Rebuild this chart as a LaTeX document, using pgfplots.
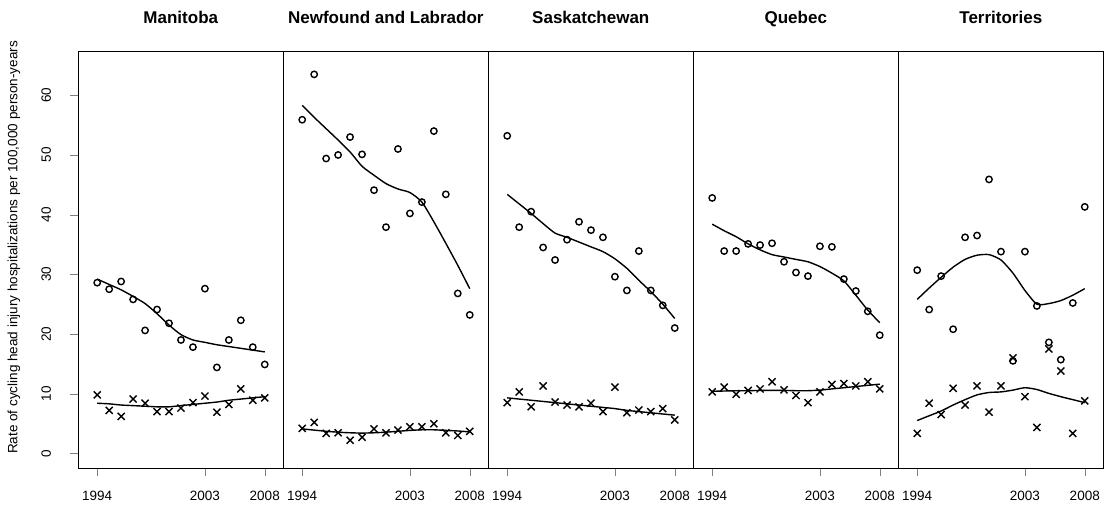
\documentclass[border=0pt]{standalone}
\usepackage{pgfplots}
\pgfplotsset{compat=1.18}
\usepackage{fontspec}
\setmainfont{Liberation Sans}

\pgfplotsset{
  panel/.style={
    scale only axis, width=205pt, height=416.6pt,
    anchor=south west,
    xmin=1992.42, xmax=2009.55, ymin=-2.5, ymax=67.3,
    xtick={1994,2003,2008}, xticklabels={1994,2003,2008},
    ytick=\empty,
    tick align=outside, major tick length=8pt,
    xtick pos=lower, ytick pos=left,
    line width=1.5pt,
    /pgf/number format/assume math mode=true,
    xticklabel style={font=\fontsize{13.5}{15}\selectfont, anchor=base, yshift=-24pt},
    title style={font=\fontsize{17}{19}\selectfont\bfseries, at={(0.5,1)}, anchor=base, yshift=21.7pt},
    clip=false,
  },
  circ/.style={only marks, mark=o, mark size=3.2pt, mark options={line width=1.4pt}},
  crs/.style={only marks, mark=x, mark size=5pt, mark options={line width=1.4pt}},
  fit/.style={no marks, line width=1.4pt, smooth, tension=0.4},
}

\begin{document}
\begin{tikzpicture}
\path[use as bounding box] (-78.3pt,-36.7pt) rectangle (1030.7pt,468.3pt);

% Manitoba
\begin{axis}[panel, at={(0pt,0pt)}, title={Manitoba},
  ytick={0,10,20,30,40,50,60}, yticklabels={0,10,20,30,40,50,60},
  yticklabel style={font=\fontsize{13.5}{15}\selectfont, xshift=-19.4pt, rotate=90, anchor=base},
  ylabel={Rate of cycling head injury hospitalizations per 100,000 person-years},
  every axis y label/.style={font=\fontsize{13.5}{15}\selectfont, at={(axis description cs:0,0.53)}, xshift=-61pt, rotate=90, anchor=base}]
\addplot[circ] coordinates {(1994,28.6)(1995,27.5)(1996,28.8)(1997,25.8)(1998,20.6)(1999,24.1)(2000,21.8)(2001,19.0)(2002,17.8)(2003,27.6)(2004,14.4)(2005,19.0)(2006,22.3)(2007,17.8)(2008,14.9)};
\addplot[fit] coordinates {(1994,29.2)(1995,28.3)(1996,27.4)(1997,26.3)(1998,25.1)(1999,23.4)(2000,21.5)(2001,19.9)(2002,19.0)(2003,18.6)(2004,18.2)(2005,17.9)(2006,17.6)(2007,17.3)(2008,17.0)};
\addplot[crs] coordinates {(1994,9.8)(1995,7.2)(1996,6.2)(1997,9.1)(1998,8.4)(1999,7.0)(2000,7.0)(2001,7.6)(2002,8.5)(2003,9.6)(2004,6.9)(2005,8.2)(2006,10.8)(2007,8.9)(2008,9.3)};
\addplot[fit] coordinates {(1994,8.4)(1995,8.3)(1996,8.1)(1997,8.0)(1998,7.9)(1999,7.8)(2000,7.8)(2001,8.0)(2002,8.2)(2003,8.4)(2004,8.6)(2005,8.9)(2006,9.1)(2007,9.3)(2008,9.5)};
\end{axis}

% Newfoundland
\begin{axis}[panel, at={(205pt,0pt)}, title={Newfound and Labrador}]
\addplot[circ] coordinates {(1994,55.9)(1995,63.5)(1996,49.4)(1997,50.0)(1998,53.0)(1999,50.1)(2000,44.1)(2001,37.9)(2002,51.0)(2003,40.2)(2004,42.1)(2005,54.0)(2006,43.4)(2007,26.8)(2008,23.2)};
\addplot[fit] coordinates {(1994,58.3)(1995,56.3)(1996,54.4)(1997,52.5)(1998,50.5)(1999,48.1)(2000,46.6)(2001,45.2)(2002,44.3)(2003,43.7)(2004,42.1)(2005,38.8)(2006,35.2)(2007,31.5)(2008,27.6)};
\addplot[crs] coordinates {(1994,4.2)(1995,5.2)(1996,3.35)(1997,3.45)(1998,2.2)(1999,2.7)(2000,4.1)(2001,3.45)(2002,3.9)(2003,4.45)(2004,4.45)(2005,4.96)(2006,3.45)(2007,3.0)(2008,3.7)};
\addplot[fit] coordinates {(1994,4.1)(1995,3.9)(1996,3.7)(1997,3.55)(1998,3.45)(1999,3.4)(2000,3.45)(2001,3.55)(2002,3.7)(2003,3.85)(2004,3.95)(2005,3.95)(2006,3.85)(2007,3.75)(2008,3.6)};
\end{axis}

% Saskatchewan
\begin{axis}[panel, at={(410pt,0pt)}, title={Saskatchewan}]
\addplot[circ] coordinates {(1994,53.2)(1995,37.9)(1996,40.5)(1997,34.5)(1998,32.4)(1999,35.8)(2000,38.8)(2001,37.4)(2002,36.2)(2003,29.6)(2004,27.3)(2005,33.9)(2006,27.3)(2007,24.8)(2008,21.0)};
\addplot[fit] coordinates {(1994,43.4)(1995,41.8)(1996,40.2)(1997,38.5)(1998,36.9)(1999,36.2)(2000,35.4)(2001,34.6)(2002,33.8)(2003,32.6)(2004,31.0)(2005,29.0)(2006,27.1)(2007,25.0)(2008,22.6)};
\addplot[crs] coordinates {(1994,8.5)(1995,10.3)(1996,7.8)(1997,11.3)(1998,8.6)(1999,8.1)(2000,7.8)(2001,8.4)(2002,7.0)(2003,11.1)(2004,6.8)(2005,7.25)(2006,7.0)(2007,7.5)(2008,5.6)};
\addplot[fit] coordinates {(1994,9.3)(1995,9.1)(1996,8.9)(1997,8.7)(1998,8.5)(1999,8.3)(2000,8.1)(2001,7.9)(2002,7.7)(2003,7.5)(2004,7.2)(2005,7.0)(2006,6.8)(2007,6.6)(2008,6.4)};
\end{axis}

% Quebec
\begin{axis}[panel, at={(615pt,0pt)}, title={Quebec}]
\addplot[circ] coordinates {(1994,42.8)(1995,33.9)(1996,33.9)(1997,35.1)(1998,34.9)(1999,35.2)(2000,32.1)(2001,30.3)(2002,29.7)(2003,34.7)(2004,34.6)(2005,29.2)(2006,27.2)(2007,23.8)(2008,19.8)};
\addplot[fit] coordinates {(1994,38.4)(1995,37.3)(1996,36.3)(1997,35.1)(1998,34.1)(1999,33.3)(2000,32.9)(2001,32.5)(2002,32.1)(2003,31.3)(2004,30.2)(2005,28.9)(2006,26.5)(2007,24.0)(2008,21.9)};
\addplot[crs] coordinates {(1994,10.3)(1995,11.1)(1996,9.9)(1997,10.55)(1998,10.8)(1999,12.0)(2000,10.65)(2001,9.7)(2002,8.5)(2003,10.3)(2004,11.55)(2005,11.7)(2006,11.3)(2007,12.0)(2008,10.8)};
\addplot[fit] coordinates {(1994,10.4)(1995,10.45)(1996,10.5)(1997,10.5)(1998,10.55)(1999,10.55)(2000,10.55)(2001,10.5)(2002,10.5)(2003,10.6)(2004,10.8)(2005,11.0)(2006,11.2)(2007,11.4)(2008,11.6)};
\end{axis}

% Territories
\begin{axis}[panel, at={(820pt,0pt)}, title={Territories}]
\addplot[circ] coordinates {(1994,30.7)(1995,24.1)(1996,29.7)(1997,20.8)(1998,36.2)(1999,36.5)(2000,45.9)(2001,33.8)(2002,15.5)(2003,33.8)(2004,24.7)(2005,18.6)(2006,15.7)(2007,25.2)(2008,41.3)};
\addplot[fit] coordinates {(1994,25.8)(1995,27.7)(1996,29.5)(1997,31.2)(1998,32.5)(1999,33.2)(2000,33.3)(2001,32.4)(2002,30.2)(2003,27.3)(2004,25.0)(2005,25.1)(2006,25.6)(2007,26.5)(2008,27.6)};
\addplot[crs] coordinates {(1994,3.35)(1995,8.4)(1996,6.5)(1997,10.9)(1998,8.1)(1999,11.3)(2000,6.9)(2001,11.3)(2002,16.0)(2003,9.5)(2004,4.35)(2005,17.5)(2006,13.8)(2007,3.35)(2008,8.8)};
\addplot[fit] coordinates {(1994,5.5)(1995,6.3)(1996,7.1)(1997,8.1)(1998,9.0)(1999,9.8)(2000,10.2)(2001,10.3)(2002,10.6)(2003,11.0)(2004,10.7)(2005,10.05)(2006,9.5)(2007,9.0)(2008,8.5)};
\end{axis}
\end{tikzpicture}
\end{document}
